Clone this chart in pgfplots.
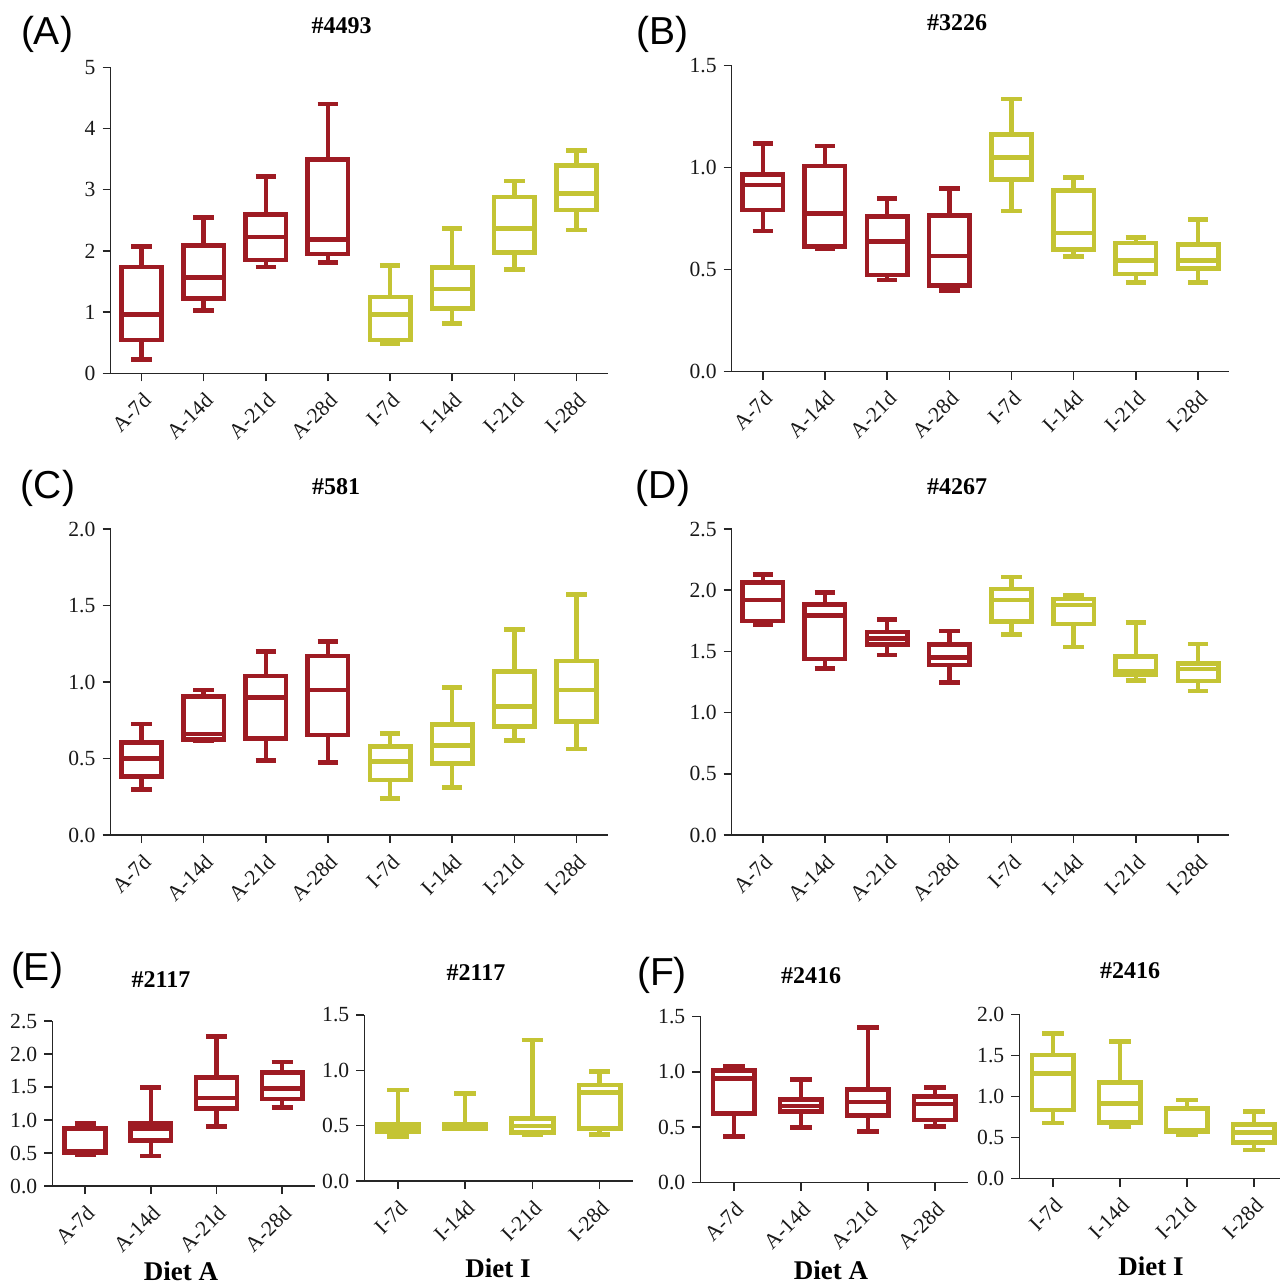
\documentclass[border=0pt]{standalone}
\usepackage{pgfplots}
\pgfplotsset{compat=1.18}
\usepackage{pgfplotstable}
\usepgfplotslibrary{statistics}
\usepackage{fontspec}
\setmainfont{Liberation Serif}
\newfontfamily\sansf{Liberation Sans}
\definecolor{cR}{HTML}{9E1B23}
\definecolor{cY}{HTML}{C4C434}

\pgfplotstableread{
lw lq med uq uw
0.23 0.545 0.96 1.74 2.07
1.03 1.22 1.57 2.09 2.55
1.74 1.85 2.23 2.59 3.22
1.81 1.95 2.19 3.49 4.40
0.49 0.545 0.96 1.25 1.76
0.81 1.06 1.38 1.73 2.37
1.70 1.97 2.37 2.88 3.14
2.34 2.67 2.94 3.40 3.64
}\tabA
\pgfplotstableread{
lw lq med uq uw
0.689 0.792 0.914 0.966 1.118
0.602 0.612 0.774 1.007 1.105
0.449 0.473 0.637 0.759 0.849
0.397 0.421 0.566 0.765 0.898
0.787 0.942 1.048 1.162 1.335
0.565 0.599 0.679 0.886 0.951
0.437 0.478 0.545 0.630 0.656
0.436 0.504 0.543 0.623 0.746
}\tabB
\pgfplotstableread{
lw lq med uq uw
0.296 0.381 0.501 0.603 0.725
0.614 0.625 0.660 0.904 0.948
0.486 0.632 0.898 1.039 1.198
0.473 0.654 0.948 1.170 1.264
0.240 0.359 0.479 0.577 0.664
0.309 0.468 0.584 0.723 0.965
0.619 0.710 0.841 1.070 1.344
0.562 0.743 0.948 1.137 1.573
}\tabC
\pgfplotstableread{
lw lq med uq uw
1.721 1.748 1.920 2.062 2.130
1.362 1.438 1.792 1.885 1.983
1.471 1.558 1.607 1.659 1.762
1.247 1.389 1.452 1.558 1.667
1.639 1.743 1.920 2.010 2.108
1.536 1.724 1.879 1.928 1.955
1.264 1.307 1.340 1.457 1.735
1.176 1.258 1.356 1.400 1.560
}\tabD
\pgfplotstableread{
lw lq med uq uw
0.48 0.50 0.53 0.874 0.949
0.455 0.687 0.869 0.949 1.495
0.899 1.177 1.333 1.646 2.263
1.187 1.318 1.475 1.717 1.879
}\tabEA
\pgfplotstableread{
lw lq med uq uw
0.40 0.446 0.482 0.515 0.822
0.47 0.47 0.49 0.51 0.792
0.416 0.437 0.497 0.566 1.274
0.422 0.476 0.798 0.867 0.988
}\tabEI
\pgfplotstableread{
lw lq med uq uw
0.415 0.625 0.941 1.010 1.052
0.499 0.640 0.691 0.751 0.932
0.460 0.607 0.727 0.842 1.401
0.505 0.565 0.709 0.775 0.857
}\tabFA
\pgfplotstableread{
lw lq med uq uw
0.677 0.836 1.278 1.505 1.769
0.633 0.682 0.913 1.172 1.667
0.531 0.572 0.592 0.856 0.957
0.349 0.438 0.560 0.661 0.815
}\tabFI

% #1 table, #2 row, #3 colour, #4 draw position
\newcommand{\bx}[4]{%
  \pgfplotstablegetelem{#2}{lw}\of{#1}\let\vlw\pgfplotsretval
  \pgfplotstablegetelem{#2}{lq}\of{#1}\let\vlq\pgfplotsretval
  \pgfplotstablegetelem{#2}{med}\of{#1}\let\vmed\pgfplotsretval
  \pgfplotstablegetelem{#2}{uq}\of{#1}\let\vuq\pgfplotsretval
  \pgfplotstablegetelem{#2}{uw}\of{#1}\let\vuw\pgfplotsretval
  \edef\bxcmd{\noexpand\addplot[draw=#3, line width=2.3pt, solid,
    boxplot prepared={draw position=#4,
      lower whisker=\vlw, lower quartile=\vlq, median=\vmed,
      upper quartile=\vuq, upper whisker=\vuw}] coordinates {};}%
  \bxcmd}

\pgfplotsset{
  bp/.style={
    scale only axis, axis lines*=left,
    axis line style={line width=0.75pt, black!85},
    every tick/.style={line width=0.75pt, black!85},
    tick align=outside, major tick length=4pt,
    ymin=0, xmin=0.5,
    ticklabel style={font=\fontsize{10.8}{12}\selectfont, text=black!90},
    /pgf/number format/assume math mode=true,
    xticklabel style={rotate=45, anchor=north east},
    boxplot/draw direction=y,
    boxplot/box extend=0.65, boxplot/whisker extend=0.33,
    clip=false, anchor=south west,
  },
  dec/.style={yticklabel style={/pgf/number format/.cd, fixed, fixed zerofill, precision=1}},
  eight/.style={xmax=8.5, xtick={1,...,8},
    xticklabels={A-7d,A-14d,A-21d,A-28d,I-7d,I-14d,I-21d,I-28d}},
  fourA/.style={xtick={1,...,4}, xticklabels={A-7d,A-14d,A-21d,A-28d},
    boxplot/box extend=0.62, boxplot/whisker extend=0.32},
  fourI/.style={xtick={1,...,4}, xticklabels={I-7d,I-14d,I-21d,I-28d},
    boxplot/box extend=0.62, boxplot/whisker extend=0.32},
}

\begin{document}
\begin{tikzpicture}
\useasboundingbox (0pt,0pt) rectangle (640pt,-642.5pt);

% (A)
\begin{axis}[bp, eight, at={(55.25pt,-186.65pt)}, width=248.5pt, height=153pt,
  ymax=5, ytick={0,1,2,3,4,5}]
\bx{\tabA}{0}{cR}{1}\bx{\tabA}{1}{cR}{2}\bx{\tabA}{2}{cR}{3}\bx{\tabA}{3}{cR}{4}
\bx{\tabA}{4}{cY}{5}\bx{\tabA}{5}{cY}{6}\bx{\tabA}{6}{cY}{7}\bx{\tabA}{7}{cY}{8}
\end{axis}

% (B)
\begin{axis}[bp, eight, dec, at={(365.85pt,-185.85pt)}, width=248.75pt, height=153.2pt,
  ymax=1.5, ytick={0,0.5,1,1.5}]
\bx{\tabB}{0}{cR}{1}\bx{\tabB}{1}{cR}{2}\bx{\tabB}{2}{cR}{3}\bx{\tabB}{3}{cR}{4}
\bx{\tabB}{4}{cY}{5}\bx{\tabB}{5}{cY}{6}\bx{\tabB}{6}{cY}{7}\bx{\tabB}{7}{cY}{8}
\end{axis}

% (C)
\begin{axis}[bp, eight, dec, at={(55.25pt,-417.5pt)}, width=248.5pt, height=153pt,
  ymax=2, ytick={0,0.5,1,1.5,2}]
\bx{\tabC}{0}{cR}{1}\bx{\tabC}{1}{cR}{2}\bx{\tabC}{2}{cR}{3}\bx{\tabC}{3}{cR}{4}
\bx{\tabC}{4}{cY}{5}\bx{\tabC}{5}{cY}{6}\bx{\tabC}{6}{cY}{7}\bx{\tabC}{7}{cY}{8}
\end{axis}

% (D)
\begin{axis}[bp, eight, dec, at={(365.85pt,-417.5pt)}, width=248.75pt, height=153pt,
  ymax=2.5, ytick={0,0.5,1,1.5,2,2.5}]
\bx{\tabD}{0}{cR}{1}\bx{\tabD}{1}{cR}{2}\bx{\tabD}{2}{cR}{3}\bx{\tabD}{3}{cR}{4}
\bx{\tabD}{4}{cY}{5}\bx{\tabD}{5}{cY}{6}\bx{\tabD}{6}{cY}{7}\bx{\tabD}{7}{cY}{8}
\end{axis}

% (E) left
\begin{axis}[bp, fourA, dec, at={(26.15pt,-593pt)}, width=131.35pt, height=82.5pt,
  xmax=4.5, ymax=2.5, ytick={0,0.5,1,1.5,2,2.5}]
\bx{\tabEA}{0}{cR}{1}\bx{\tabEA}{1}{cR}{2}\bx{\tabEA}{2}{cR}{3}\bx{\tabEA}{3}{cR}{4}
\end{axis}

% (E) right
\begin{axis}[bp, fourI, dec, at={(182.15pt,-590.5pt)}, width=134.5pt, height=83pt,
  xmax=4.5, ymax=1.5, ytick={0,0.5,1,1.5}]
\bx{\tabEI}{0}{cY}{1}\bx{\tabEI}{1}{cY}{2}\bx{\tabEI}{2}{cY}{3}\bx{\tabEI}{3}{cY}{4}
\end{axis}

% (F) left
\begin{axis}[bp, fourA, dec, at={(350.15pt,-591.35pt)}, width=134pt, height=83.2pt,
  xmax=4.5, ymax=1.5, ytick={0,0.5,1,1.5}]
\bx{\tabFA}{0}{cR}{1}\bx{\tabFA}{1}{cR}{2}\bx{\tabFA}{2}{cR}{3}\bx{\tabFA}{3}{cR}{4}
\end{axis}

% (F) right
\begin{axis}[bp, fourI, dec, at={(509.65pt,-589.35pt)}, width=130.35pt, height=82.2pt,
  xmax=4.39, ymax=2, ytick={0,0.5,1,1.5,2}]
\bx{\tabFI}{0}{cY}{1}\bx{\tabFI}{1}{cY}{2}\bx{\tabFI}{2}{cY}{3}\bx{\tabFI}{3}{cY}{4}
\end{axis}

% panel letters
\begin{scope}[every node/.style={inner sep=0pt, font=\sansf\fontsize{19.5}{22}\selectfont}]
\node at (23.5pt,-17pt) {(A)};
\node at (331pt,-17pt) {(B)};
\node at (24pt,-244pt) {(C)};
\node at (331.5pt,-244pt) {(D)};
\node at (18.5pt,-485pt) {(E)};
\node at (331pt,-487.5pt) {(F)};
\end{scope}

% titles
\begin{scope}[every node/.style={inner sep=0pt, font=\bfseries\fontsize{12}{14}\selectfont}]
\node at (170.75pt,-13pt) {\#4493};
\node at (478.5pt,-11.5pt) {\#3226};
\node at (168pt,-243.5pt) {\#581};
\node at (478.5pt,-243.5pt) {\#4267};
\node at (80.5pt,-490pt) {\#2117};
\node at (238pt,-486.5pt) {\#2117};
\node at (405.5pt,-488pt) {\#2416};
\node at (565pt,-485.5pt) {\#2416};
\end{scope}

% diet labels
\begin{scope}[every node/.style={inner sep=0pt, font=\bfseries\fontsize{13.5}{16}\selectfont}]
\node at (90.5pt,-635.5pt) {Diet A};
\node at (249pt,-634pt) {Diet I};
\node at (415.5pt,-635pt) {Diet A};
\node at (575.5pt,-633pt) {Diet I};
\end{scope}
\end{tikzpicture}
\end{document}
